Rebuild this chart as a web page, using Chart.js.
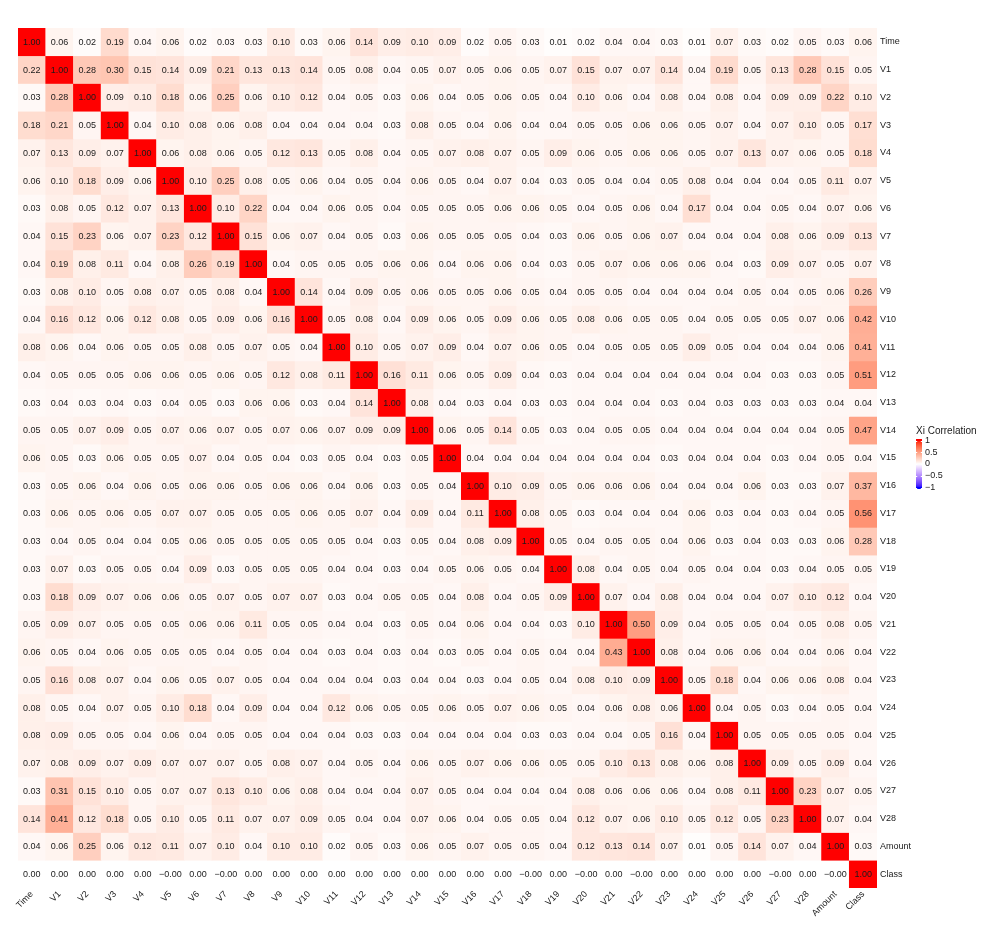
<!DOCTYPE html>
<html>
<head>
<meta charset="utf-8">
<script src="https://cdn.jsdelivr.net/npm/chart.js@4.4.1/dist/chart.umd.min.js"></script>
<style>
html,body{margin:0;padding:0;background:#fff;}
#wrap{width:996px;height:928px;position:relative;}
</style>
</head>
<body>
<div id="wrap"><canvas id="c" width="996" height="928"></canvas></div>
<script>
// ---------- DATA ----------
const variables = ['Time','V1','V2','V3','V4','V5','V6','V7','V8','V9','V10','V11','V12','V13','V14','V15','V16','V17','V18','V19','V20','V21','V22','V23','V24','V25','V26','V27','V28','Amount','Class'];

const rowTime   = [1.00,0.06,0.02,0.19,0.04,0.06,0.02,0.03,0.03,0.10,0.03,0.06,0.14,0.09,0.10,0.09,0.02,0.05,0.03,0.01,0.02,0.04,0.04,0.03,0.01,0.07,0.03,0.02,0.05,0.03,0.06];
const rowV1     = [0.22,1.00,0.28,0.30,0.15,0.14,0.09,0.21,0.13,0.13,0.14,0.05,0.08,0.04,0.05,0.07,0.05,0.06,0.05,0.07,0.15,0.07,0.07,0.14,0.04,0.19,0.05,0.13,0.28,0.15,0.05];
const rowV2     = [0.03,0.28,1.00,0.09,0.10,0.18,0.06,0.25,0.06,0.10,0.12,0.04,0.05,0.03,0.06,0.04,0.05,0.06,0.05,0.04,0.10,0.06,0.04,0.08,0.04,0.08,0.04,0.09,0.09,0.22,0.10];
const rowV3     = [0.18,0.21,0.05,1.00,0.04,0.10,0.08,0.06,0.08,0.04,0.04,0.04,0.04,0.03,0.08,0.05,0.04,0.06,0.04,0.04,0.05,0.05,0.06,0.06,0.05,0.07,0.04,0.07,0.10,0.05,0.17];
const rowV4     = [0.07,0.13,0.09,0.07,1.00,0.06,0.08,0.06,0.05,0.12,0.13,0.05,0.08,0.04,0.05,0.07,0.08,0.07,0.05,0.09,0.06,0.05,0.06,0.06,0.05,0.07,0.13,0.07,0.06,0.05,0.18];
const rowV5     = [0.06,0.10,0.18,0.09,0.06,1.00,0.10,0.25,0.08,0.05,0.06,0.04,0.05,0.04,0.06,0.05,0.04,0.07,0.04,0.03,0.05,0.04,0.04,0.05,0.08,0.04,0.04,0.04,0.05,0.11,0.07];
const rowV6     = [0.03,0.08,0.05,0.12,0.07,0.13,1.00,0.10,0.22,0.04,0.04,0.06,0.05,0.04,0.05,0.05,0.05,0.06,0.06,0.05,0.04,0.05,0.06,0.04,0.17,0.04,0.04,0.05,0.04,0.07,0.06];
const rowV7     = [0.04,0.15,0.23,0.06,0.07,0.23,0.12,1.00,0.15,0.06,0.07,0.04,0.05,0.03,0.06,0.05,0.05,0.05,0.04,0.03,0.06,0.05,0.06,0.07,0.04,0.04,0.04,0.08,0.06,0.09,0.13];
const rowV8     = [0.04,0.19,0.08,0.11,0.04,0.08,0.26,0.19,1.00,0.04,0.05,0.05,0.05,0.06,0.06,0.04,0.06,0.06,0.04,0.03,0.05,0.07,0.06,0.06,0.06,0.04,0.03,0.09,0.07,0.05,0.07];
const rowV9     = [0.03,0.08,0.10,0.05,0.08,0.07,0.05,0.08,0.04,1.00,0.14,0.04,0.09,0.05,0.06,0.05,0.05,0.06,0.05,0.04,0.05,0.05,0.04,0.04,0.04,0.04,0.05,0.04,0.05,0.06,0.26];
const rowV10    = [0.04,0.16,0.12,0.06,0.12,0.08,0.05,0.09,0.06,0.16,1.00,0.05,0.08,0.04,0.09,0.06,0.05,0.09,0.06,0.05,0.08,0.06,0.05,0.05,0.04,0.05,0.05,0.05,0.07,0.06,0.42];
const rowV11    = [0.08,0.06,0.04,0.06,0.05,0.05,0.08,0.05,0.07,0.05,0.04,1.00,0.10,0.05,0.07,0.09,0.04,0.07,0.06,0.05,0.04,0.05,0.05,0.05,0.09,0.05,0.04,0.04,0.04,0.06,0.41];
const rowV12    = [0.04,0.05,0.05,0.05,0.06,0.06,0.05,0.06,0.05,0.12,0.08,0.11,1.00,0.16,0.11,0.06,0.05,0.09,0.04,0.03,0.04,0.04,0.04,0.04,0.04,0.04,0.04,0.03,0.03,0.05,0.51];
const rowV13    = [0.03,0.04,0.03,0.04,0.03,0.04,0.05,0.03,0.06,0.06,0.03,0.04,0.14,1.00,0.08,0.04,0.03,0.04,0.03,0.03,0.04,0.04,0.04,0.03,0.04,0.03,0.03,0.03,0.03,0.04,0.04];
const rowV14    = [0.05,0.05,0.07,0.09,0.05,0.07,0.06,0.07,0.05,0.07,0.06,0.07,0.09,0.09,1.00,0.06,0.05,0.14,0.05,0.03,0.04,0.05,0.05,0.04,0.04,0.04,0.04,0.04,0.04,0.05,0.47];
const rowV15    = [0.06,0.05,0.03,0.06,0.05,0.05,0.07,0.04,0.05,0.04,0.03,0.05,0.04,0.03,0.05,1.00,0.04,0.04,0.04,0.04,0.04,0.04,0.04,0.03,0.04,0.04,0.04,0.03,0.04,0.05,0.04];
const rowV16    = [0.03,0.05,0.06,0.04,0.06,0.05,0.06,0.06,0.05,0.06,0.06,0.04,0.06,0.03,0.05,0.04,1.00,0.10,0.09,0.05,0.06,0.06,0.06,0.04,0.04,0.04,0.06,0.03,0.03,0.07,0.37];
const rowV17    = [0.03,0.06,0.05,0.06,0.05,0.07,0.07,0.05,0.05,0.05,0.06,0.05,0.07,0.04,0.09,0.04,0.11,1.00,0.08,0.05,0.03,0.04,0.04,0.04,0.06,0.03,0.04,0.03,0.04,0.05,0.56];
const rowV18    = [0.03,0.04,0.05,0.04,0.04,0.05,0.06,0.05,0.05,0.05,0.05,0.05,0.04,0.03,0.05,0.04,0.08,0.09,1.00,0.05,0.04,0.05,0.05,0.04,0.06,0.03,0.04,0.03,0.03,0.06,0.28];
const rowV19    = [0.03,0.07,0.03,0.05,0.05,0.04,0.09,0.03,0.05,0.05,0.05,0.04,0.04,0.03,0.04,0.05,0.06,0.05,0.04,1.00,0.08,0.04,0.05,0.04,0.05,0.04,0.04,0.03,0.04,0.05,0.05];
const rowV20    = [0.03,0.18,0.09,0.07,0.06,0.06,0.05,0.07,0.05,0.07,0.07,0.03,0.04,0.05,0.05,0.04,0.08,0.04,0.05,0.09,1.00,0.07,0.04,0.08,0.04,0.04,0.04,0.07,0.10,0.12,0.04];
const rowV21    = [0.05,0.09,0.07,0.05,0.05,0.05,0.06,0.06,0.11,0.05,0.05,0.04,0.04,0.03,0.05,0.04,0.06,0.04,0.04,0.03,0.10,1.00,0.50,0.09,0.04,0.05,0.05,0.04,0.05,0.08,0.05];
const rowV22    = [0.06,0.05,0.04,0.06,0.05,0.05,0.05,0.04,0.05,0.04,0.04,0.03,0.04,0.03,0.04,0.03,0.05,0.04,0.05,0.04,0.04,0.43,1.00,0.08,0.04,0.06,0.06,0.04,0.04,0.06,0.04];
const rowV23    = [0.05,0.16,0.08,0.07,0.04,0.06,0.05,0.07,0.05,0.04,0.04,0.04,0.04,0.03,0.04,0.04,0.03,0.04,0.05,0.04,0.08,0.10,0.09,1.00,0.05,0.18,0.04,0.06,0.06,0.08,0.04];
const rowV24    = [0.08,0.05,0.04,0.07,0.05,0.10,0.18,0.04,0.09,0.04,0.04,0.12,0.06,0.05,0.05,0.06,0.05,0.07,0.06,0.05,0.04,0.06,0.08,0.06,1.00,0.04,0.05,0.03,0.04,0.05,0.04];
const rowV25    = [0.08,0.09,0.05,0.05,0.04,0.06,0.04,0.05,0.05,0.04,0.04,0.04,0.03,0.03,0.04,0.04,0.04,0.04,0.03,0.03,0.04,0.04,0.05,0.16,0.04,1.00,0.05,0.05,0.05,0.05,0.04];
const rowV26    = [0.07,0.08,0.09,0.07,0.09,0.07,0.07,0.07,0.05,0.08,0.07,0.04,0.05,0.04,0.06,0.05,0.07,0.06,0.06,0.05,0.05,0.10,0.13,0.08,0.06,0.08,1.00,0.09,0.05,0.09,0.04];
const rowV27    = [0.03,0.31,0.15,0.10,0.05,0.07,0.07,0.13,0.10,0.06,0.08,0.04,0.04,0.04,0.07,0.05,0.04,0.04,0.04,0.04,0.08,0.06,0.06,0.06,0.04,0.08,0.11,1.00,0.23,0.07,0.05];
const rowV28    = [0.14,0.41,0.12,0.18,0.05,0.10,0.05,0.11,0.07,0.07,0.09,0.05,0.04,0.04,0.07,0.06,0.04,0.05,0.05,0.04,0.12,0.07,0.06,0.10,0.05,0.12,0.05,0.23,1.00,0.07,0.04];
const rowAmount = [0.04,0.06,0.25,0.06,0.12,0.11,0.07,0.10,0.04,0.10,0.10,0.02,0.05,0.03,0.06,0.05,0.07,0.05,0.05,0.04,0.12,0.13,0.14,0.07,0.01,0.05,0.14,0.07,0.04,1.00,0.03];
const rowClass  = [0.00,0.00,0.00,0.00,0.00,-0.001,0.00,-0.001,0.00,0.00,0.00,0.00,0.00,0.00,0.00,0.00,0.00,0.00,-0.001,0.00,-0.001,0.00,-0.001,0.00,0.00,0.00,0.00,-0.001,0.00,-0.001,1.00];

const legendTitle = 'Xi Correlation';
const legendTicks = [1, 0.5, 0, -0.5, -1];
const legendTickLabels = ['1', '0.5', '0', '\u22120.5', '\u22121'];

const matrix = [rowTime,rowV1,rowV2,rowV3,rowV4,rowV5,rowV6,rowV7,rowV8,rowV9,rowV10,rowV11,rowV12,rowV13,rowV14,rowV15,rowV16,rowV17,rowV18,rowV19,rowV20,rowV21,rowV22,rowV23,rowV24,rowV25,rowV26,rowV27,rowV28,rowAmount,rowClass];

// ---------- COLOUR (Lab interpolation blue - white - red) ----------
function toLin(c){c/=255;return c<=0.04045?c/12.92:Math.pow((c+0.055)/1.055,2.4);}
function toS(c){c=c<=0.0031308?12.92*c:1.055*Math.pow(c,1/2.4)-0.055;return Math.round(Math.max(0,Math.min(1,c))*255);}
const Xn=0.95047,Yn=1,Zn=1.08883;
function f(t){return t>0.008856?Math.cbrt(t):7.787*t+16/116;}
function fi(t){return t>0.206893?t*t*t:(t-16/116)/7.787;}
function rgb2lab(c){
  const r=toLin(c[0]),g=toLin(c[1]),b=toLin(c[2]);
  const X=(0.4124*r+0.3576*g+0.1805*b)/Xn,Y=(0.2126*r+0.7152*g+0.0722*b)/Yn,Z=(0.0193*r+0.1192*g+0.9505*b)/Zn;
  const fx=f(X),fy=f(Y),fz=f(Z);
  return [116*fy-16,500*(fx-fy),200*(fy-fz)];
}
function lab2rgb(l){
  const fy=(l[0]+16)/116,fx=fy+l[1]/500,fz=fy-l[2]/200;
  const X=fi(fx)*Xn,Y=fi(fy)*Yn,Z=fi(fz)*Zn;
  const r=3.2406*X-1.5372*Y-0.4986*Z,g=-0.9689*X+1.8758*Y+0.0415*Z,b=0.0557*X-0.2040*Y+1.0570*Z;
  return [toS(r),toS(g),toS(b)];
}
const LAB_W=rgb2lab([255,255,255]),LAB_R=rgb2lab([255,0,0]),LAB_B=rgb2lab([0,0,255]);
function fillColor(v){
  const t=Math.min(1,Math.abs(v));
  const end=v>=0?LAB_R:LAB_B;
  const l=[0,1,2].map(k=>LAB_W[k]+(end[k]-LAB_W[k])*t);
  const c=lab2rgb(l);
  return 'rgb('+c[0]+','+c[1]+','+c[2]+')';
}
function fmt(v){return v.toFixed(2).replace('-','\u2212');}

const FONT='"Liberation Sans", Arial, Helvetica, sans-serif';

// ---------- DATASETS ----------
const datasets = matrix.map((row,i)=>({
  label: variables[i],
  data: row.map(()=>[i,i+1]),
  values: row,
  backgroundColor: row.map(v=>fillColor(v)),
  borderWidth: 0,
  barPercentage: 1,
  categoryPercentage: 1,
  grouped: false
}));

// ---------- PLUGINS ----------
const cellText = {
  id:'cellText',
  afterDatasetsDraw(chart){
    const ctx=chart.ctx;
    ctx.save();
    ctx.font='9px '+FONT;
    ctx.fillStyle='#1a1a1a';
    ctx.textAlign='center';
    ctx.textBaseline='middle';
    chart.data.datasets.forEach((ds,i)=>{
      chart.getDatasetMeta(i).data.forEach((bar,j)=>{
        const p=bar.getCenterPoint();
        ctx.fillText(fmt(ds.values[j]),p.x,p.y+0.5);
      });
    });
    ctx.restore();
  }
};

const colorBar = {
  id:'colorBar',
  afterDraw(chart){
    const ctx=chart.ctx;
    const x0=916,w=6,yTop=439,yBot=489,yMid=464,half=23.5;
    ctx.save();
    ctx.font='10px '+FONT;
    ctx.fillStyle='#1a1a1a';
    ctx.textAlign='left';
    ctx.textBaseline='middle';
    ctx.fillText(legendTitle,x0,431);
    for(let y=yTop;y<yBot;y++){
      const v=(yMid-(y+0.5))/half;
      ctx.fillStyle=fillColor(Math.max(-1,Math.min(1,v)));
      ctx.fillRect(x0,y,w,1);
    }
    ctx.font='9px '+FONT;
    legendTicks.forEach((t,k)=>{
      const y=yMid-t*half;
      ctx.fillStyle='#1a1a1a';
      ctx.fillText(legendTickLabels[k],x0+w+3,y);
      ctx.strokeStyle='#ffffff';
      ctx.lineWidth=1;
      ctx.beginPath();
      ctx.moveTo(x0,Math.round(y)+0.5);ctx.lineTo(x0+1.2,Math.round(y)+0.5);
      ctx.moveTo(x0+w-1.2,Math.round(y)+0.5);ctx.lineTo(x0+w,Math.round(y)+0.5);
      ctx.stroke();
    });
    ctx.restore();
  }
};

new Chart(document.getElementById('c'),{
  type:'bar',
  data:{labels:variables,datasets:datasets},
  options:{
    responsive:false,
    devicePixelRatio:1,
    animation:false,
    layout:{padding:{left:18,top:28,right:0,bottom:0}},
    plugins:{legend:{display:false},tooltip:{enabled:false}},
    scales:{
      x:{
        type:'category',
        grid:{display:false,drawTicks:false},
        border:{display:false},
        ticks:{autoSkip:false,minRotation:45,maxRotation:45,padding:1,color:'#1a1a1a',font:{family:FONT,size:9}},
        afterFit(s){s.height=40;}
      },
      y:{
        type:'linear',
        position:'right',
        min:0,max:variables.length,
        reverse:true,
        grid:{display:false,drawTicks:false},
        border:{display:false},
        afterBuildTicks(s){s.ticks=variables.map((_,i)=>({value:i+0.5}));},
        ticks:{padding:3,color:'#1a1a1a',font:{family:FONT,size:9},callback:(v)=>variables[Math.floor(v)]},
        afterFit(s){s.width=119;}
      }
    }
  },
  plugins:[cellText,colorBar]
});
</script>
</body>
</html>
